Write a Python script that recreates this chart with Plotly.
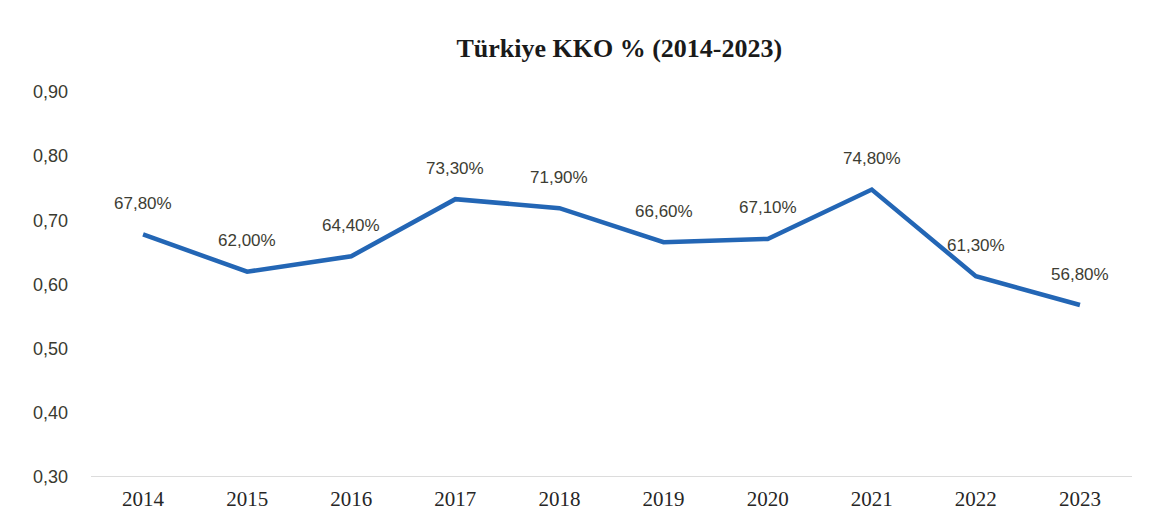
import plotly.graph_objects as go

years = ["2014", "2015", "2016", "2017", "2018", "2019", "2020", "2021", "2022", "2023"]
kko = [0.678, 0.620, 0.644, 0.733, 0.719, 0.666, 0.671, 0.748, 0.613, 0.568]
labels = ["67,80%", "62,00%", "64,40%", "73,30%", "71,90%", "66,60%", "67,10%", "74,80%", "61,30%", "56,80%"]
y_ticks = [0.3, 0.4, 0.5, 0.6, 0.7, 0.8, 0.9]
y_tick_text = ["0,30", "0,40", "0,50", "0,60", "0,70", "0,80", "0,90"]

fig = go.Figure()
fig.add_trace(go.Scatter(
    x=years, y=kko, mode="lines",
    line=dict(color="#2366b5", width=4.5),
    hoverinfo="skip", showlegend=False,
))

for i, (y, t) in enumerate(zip(kko, labels)):
    fig.add_annotation(
        x=i, y=y, text=t, showarrow=False, yshift=31,
        font=dict(family="Liberation Sans, Arial, sans-serif", size=17, color="#3d3d33"),
    )

fig.update_layout(
    width=1149, height=519,
    margin=dict(l=83, r=25, t=84, b=50),
    paper_bgcolor="white", plot_bgcolor="white",
    title=dict(
        text="<b>Türkiye KKO % (2014-2023)</b>",
        x=0.532, xanchor="center", y=0.923, yanchor="middle",
        font=dict(family="Liberation Serif, Times New Roman, serif", size=26, color="#1a1a1a"),
    ),
    xaxis=dict(
        type="category", range=[-0.5, len(years) - 0.5],
        showgrid=False, zeroline=False, showline=False,
        ticks="", ticklabelstandoff=7,
        tickfont=dict(family="Liberation Serif, Times New Roman, serif", size=21, color="#262626"),
    ),
    yaxis=dict(
        range=[0.3, 0.9], tickvals=y_ticks, ticktext=y_tick_text,
        showgrid=False, zeroline=False, showline=False, ticks="",
        ticklabelstandoff=22,
        tickfont=dict(family="Liberation Sans, Arial, sans-serif", size=18, color="#3a3a30"),
    ),
    shapes=[dict(type="line", xref="paper", yref="y", x0=0.0, x1=1.0, y0=0.3, y1=0.3,
                 line=dict(color="#d0d0d0", width=1.5))],
)

fig.write_html("out.html")
